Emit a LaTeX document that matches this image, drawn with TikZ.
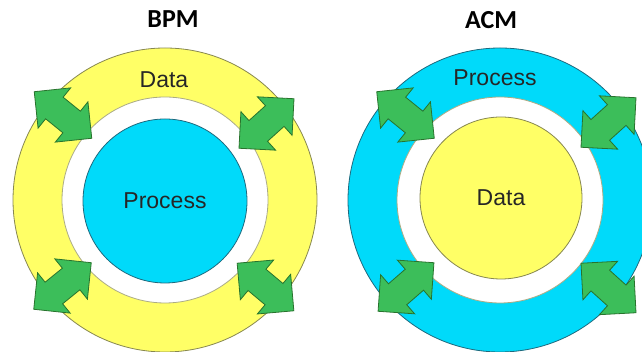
\documentclass[tikz,border=0pt]{standalone}
\usepackage{fontspec}
\setmainfont{Liberation Sans}
\newfontfamily\titlefont{Carlito}
\usepackage{tikz}
\usetikzlibrary{shapes, positioning}
\definecolor{ringyellow}{RGB}{255,255,102}
\definecolor{ringcyan}{RGB}{0,218,250}
\definecolor{arrowgreen}{RGB}{60,190,90}
\definecolor{arrowedge}{RGB}{40,115,45}
\definecolor{yellowedge}{RGB}{135,135,80}
\definecolor{cyanedge}{RGB}{30,105,125}
\tikzstyle{disc} = [circle, inner sep=0pt, outer sep=0pt, line width=0.8pt,
    font=\fontsize{23}{27}\selectfont, text=black!85]
\tikzstyle{gap} = [disc, fill=white, draw=yellowedge!70]
\tikzstyle{ringtext} = [inner sep=0pt, font=\fontsize{23}{27}\selectfont, text=black!85]
\tikzstyle{swap} = [double arrow, double arrow tip angle=90, double arrow head extend=12pt,
    minimum height=74pt, inner xsep=0pt, inner ysep=13.5pt,
    fill=arrowgreen, draw=arrowedge, line width=0.8pt]
\tikzstyle{title} = [inner sep=0pt, font=\titlefont\bfseries\fontsize{26}{30}\selectfont]

\begin{document}
\begin{tikzpicture}[x=1pt, y=1pt]
      \useasboundingbox (0,0) rectangle (642,352);
      \clip (0,0) rectangle (642,352);
      % BPM
      \node [disc, fill=ringyellow, draw=yellowedge, minimum size=304pt] (bpmring) at (165,152) {};
      \node [gap, minimum size=206pt] (bpmgap) at (bpmring) {};
      \node [disc, fill=ringcyan, draw=cyanedge, minimum size=164pt] (bpmcore) at (165,151) {Process};
      \node [ringtext] (bpmdata) at (164,272) {Data};
      \node [title] (bpmtitle) at (173,333) {BPM};
      \node [swap, rotate=-39] (bpmul) at (63,237) {};
      \node [swap, rotate=42] (bpmur) at (266.5,228.5) {};
      \node [swap, rotate=39] (bpmll) at (62.5,66) {};
      \node [swap, rotate=-40] (bpmlr) at (265.5,65) {};
      % ACM
      \node [disc, fill=ringcyan, draw=cyanedge, minimum size=304pt] (acmring) at (500,152) {};
      \node [gap, minimum size=206pt] (acmgap) at (acmring) {};
      \node [disc, fill=ringyellow, draw=yellowedge, minimum size=162pt] (acmcore) at (501,154) {Data};
      \node [ringtext] (acmprocess) at (495,274) {Process};
      \node [title] (acmtitle) at (491,332) {ACM};
      \node [swap, rotate=-39] (acmul) at (405.5,237) {};
      \node [swap, rotate=42] (acmur) at (608.5,229.5) {};
      \node [swap, rotate=41] (acmll) at (406,65) {};
      \node [swap, rotate=-42] (acmlr) at (608.5,64) {};
\end{tikzpicture}
\end{document}
